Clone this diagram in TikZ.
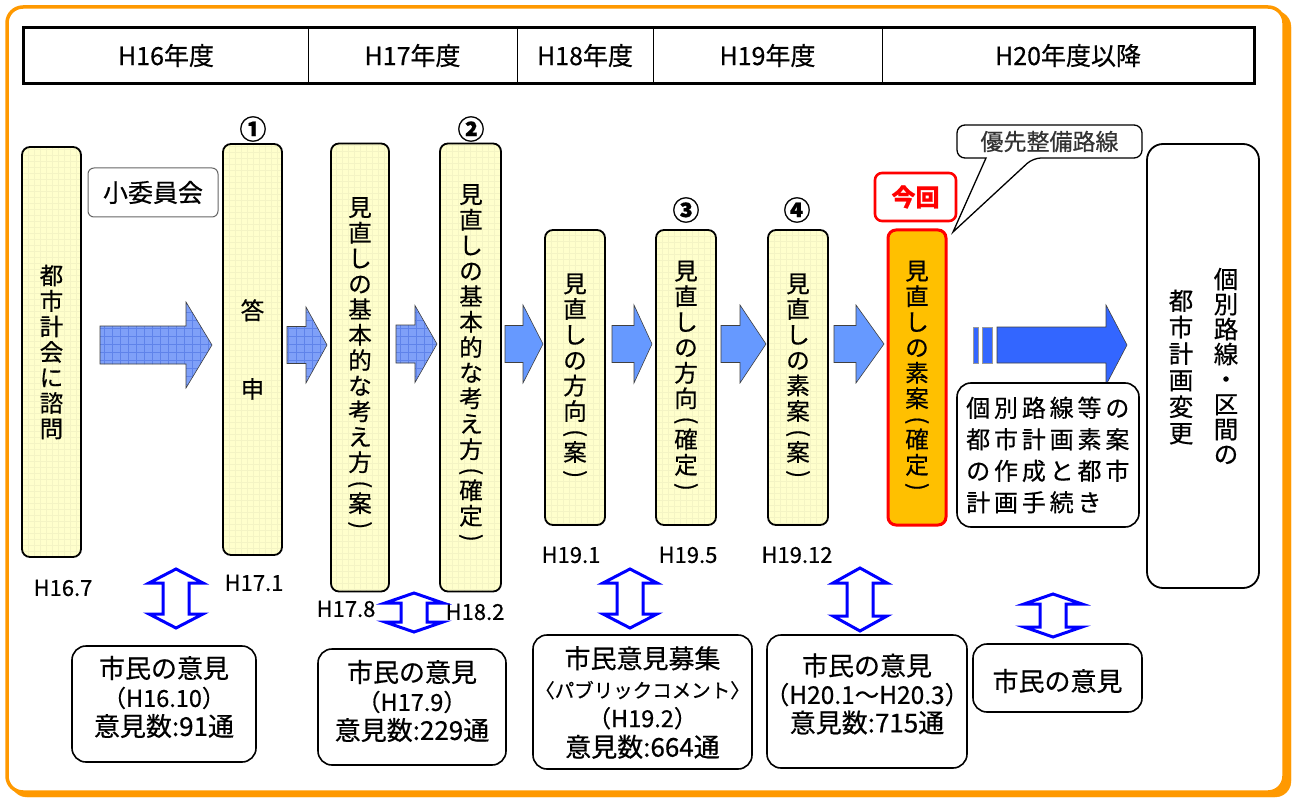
\documentclass[tikz,border=0pt]{standalone}
\usepackage{fontspec}
\usepackage{graphicx}
\setmainfont{Noto Sans CJK JP}[FakeBold=0.5]
\newfontfamily\spacedjp{Noto Sans CJK JP}[LetterSpace=16,FakeBold=0.5]
\newcommand\fsz[2]{\fontsize{#1}{#2}\selectfont}
\newcommand\vpl{\rotatebox[origin=c]{-90}{(}}
\newcommand\vpr{\rotatebox[origin=c]{-90}{)}}
\definecolor{frameorange}{HTML}{FF9900}
\definecolor{paleyellow}{HTML}{FFFFCC}
\definecolor{gridyellow}{HTML}{F4F4C4}
\definecolor{hatchblue}{HTML}{7FA0F8}
\definecolor{hatchline}{HTML}{5F83EA}
\definecolor{lightblue}{HTML}{6699FF}
\definecolor{deepblue}{HTML}{3366FF}
\definecolor{nowfill}{HTML}{FFC000}
\definecolor{dblblue}{HTML}{0000FF}
% right block arrow: style, x0, xs, x1, yc, shaft half, head half
\newcommand\rightblock[7]{\path[#1] (#2,#5-#6) -- (#3,#5-#6) -- (#3,#5-#7) -- (#4,#5) -- (#3,#5+#7) -- (#3,#5+#6) -- (#2,#5+#6) -- cycle;}
% vertical double arrow: cx, top, bottom, head half, shaft half, head height
\newcommand\dblarrow[6]{\draw[dbl] (#1,#2) -- (#1+#4,#2+#6) -- (#1+#5,#2+#6) -- (#1+#5,#3-#6) -- (#1+#4,#3-#6) -- (#1,#3) -- (#1-#4,#3-#6) -- (#1-#5,#3-#6) -- (#1-#5,#2+#6) -- (#1-#4,#2+#6) -- cycle;}
\begin{document}
\begin{tikzpicture}[x=1pt,y=-1pt,
  cell/.style={draw=black, line width=1pt, inner sep=0pt, minimum height=55pt, font=\fsz{25}{25}},
  ybox/.style={draw=black, line width=1.8pt, fill=paleyellow, rounded corners=8pt, inner sep=0pt, align=center, font=\fsz{23.5}{25.5},
    path picture={\draw[gridyellow, line width=0.4pt, step=6pt] (path picture bounding box.south west) grid (path picture bounding box.north east);}},
  nowbox/.style={draw=red, line width=3pt, fill=nowfill, rounded corners=8pt, inner sep=0pt, align=center, font=\fsz{23.5}{25.5}},
  wbox/.style={draw=black, line width=1.8pt, fill=white, rounded corners=16pt, inner sep=0pt},
  obox/.style={draw=black, line width=1.6pt, fill=white, rounded corners=14pt, inner sep=0pt},
  vtext/.style={align=center, inner sep=0pt, font=\fsz{23.5}{25.5}},
  otext/.style={align=center, inner sep=0pt, font=\fsz{26}{29}},
  dlabel/.style={inner sep=0pt, font=\fsz{22}{22}},
  numlabel/.style={inner sep=0pt, font=\fsz{27}{27}\bfseries},
  hatched/.style={fill=hatchblue, draw=black!75, line width=0.6pt,
    path picture={\draw[hatchline, line width=0.45pt, step=8pt] (path picture bounding box.south west) grid (path picture bounding box.north east);}},
  solidarrow/.style={fill=lightblue, draw=black!75, line width=0.6pt},
  bigarrow/.style={fill=deepblue, draw=black!75, line width=0.6pt},
  dbl/.style={draw=dblblue, line width=3pt, fill=white, line join=miter, miter limit=20}
]
\useasboundingbox (0,0) rectangle (1297,799);
% outer frame with shadow
\draw[frameorange, fill=frameorange, rounded corners=16pt] (11,11) rectangle (1291,797);
\draw[frameorange, line width=3.5pt, fill=white, rounded corners=16pt] (7,7) rectangle (1284,792);

% header
\node[cell, minimum width=284pt] (c16) at (166,55.5) {H16年度};
\node[cell, minimum width=209pt] (c17) at (412.5,55.5) {H17年度};
\node[cell, minimum width=136pt] (c18) at (585,55.5) {H18年度};
\node[cell, minimum width=229pt] (c19) at (767.5,55.5) {H19年度};
\node[cell, minimum width=372pt] (c20) at (1068,55.5) {H20年度以降};
\draw[line width=2.6pt] (c16.north west) rectangle (c20.south east);

% vertical boxes
\node[ybox, minimum width=59pt, minimum height=410pt] (b1) at (51.5,352) {都\\市\\計\\会\\に\\諮\\問};
\node[ybox, minimum width=59pt, minimum height=411pt] (b2) at (252.5,349.5) {答\\[53pt]申};
\node[ybox, minimum width=58pt, minimum height=448pt] (b3) at (360,367.5) {};
\node[vtext, anchor=north] (t3) at (360,197) {見\\直\\し\\の\\基\\本\\的\\な\\考\\え\\方\\[-5pt]\vpl\\[-5pt]案\\[-5pt]\vpr};
\node[ybox, minimum width=61pt, minimum height=448pt] (b4) at (470.5,367.5) {};
\node[vtext, anchor=north] (t4) at (471,184) {見\\直\\し\\の\\基\\本\\的\\な\\考\\え\\方\\[-5pt]\vpl\\[-5pt]確\\定\\[-5pt]\vpr};
\node[ybox, minimum width=60pt, minimum height=295pt] (b5) at (575,377.5) {見\\直\\し\\の\\方\\向\\[-5pt]\vpl\\[-5pt]案\\[-5pt]\vpr};
\node[ybox, minimum width=60pt, minimum height=295pt] (b6) at (686,377.5) {見\\直\\し\\の\\方\\向\\[-5pt]\vpl\\[-5pt]確\\定\\[-5pt]\vpr};
\node[ybox, minimum width=60pt, minimum height=295pt] (b7) at (798,377.5) {見\\直\\し\\の\\素\\案\\[-5pt]\vpl\\[-5pt]案\\[-5pt]\vpr};
\node[nowbox, minimum width=58pt, minimum height=295pt] (b8) at (917,377.5) {見\\直\\し\\の\\素\\案\\[-5pt]\vpl\\[-5pt]確\\定\\[-5pt]\vpr};
\node[wbox, minimum width=112pt, minimum height=444pt] (b9) at (1203,366) {};
\node[vtext, font=\fsz{24.5}{25}] (t9a) at (1226,366) {個\\別\\路\\線\\・\\区\\間\\の};
\node[vtext, font=\fsz{24.5}{26.5}] (t9b) at (1181,367) {都\\市\\計\\画\\変\\更};

% circled numbers
\node[numlabel] (n1) at (253,129) {①};
\node[numlabel] (n2) at (471,129) {②};
\node[numlabel] (n3) at (686,210) {③};
\node[numlabel] (n4) at (797,210) {④};

% small committee
\node[draw=black!60, line width=1pt, rounded corners=6pt, fill=white, minimum width=130pt, minimum height=49pt, inner sep=0pt, font=\fsz{25}{25}] (sub) at (153,192.5) {小委員会};

% this time
\node[draw=red, line width=2.6pt, rounded corners=7pt, minimum width=81pt, minimum height=48pt, inner sep=0pt, text=red, font=\fsz{24}{24}\bfseries] (now) at (915.5,197) {今回};

% callout
\coordinate (tip) at (953,232);
\draw[line width=1.3pt, fill=white, rounded corners=8pt] (957,125) -- (1142,125) -- (1142,158) -- (1033,158) [sharp corners] -- (tip) -- (986,158) [rounded corners=8pt] -- (957,158) -- cycle;
\node[inner sep=0pt, text=black!80, font=\fsz{23}{23}] (callout) at (1049.5,141.5) {優先整備路線};

% block arrows
\rightblock{hatched}{100}{186}{212}{345}{19}{43}
\rightblock{hatched}{287}{306}{327}{345}{18.5}{38}
\rightblock{hatched}{396}{415}{437}{344}{19}{38.5}
\rightblock{solidarrow}{505}{523}{543}{344}{18.5}{39}
\rightblock{solidarrow}{612}{634}{652}{344}{18.5}{39}
\rightblock{solidarrow}{721}{740}{766}{344}{18.5}{39}
\rightblock{solidarrow}{834}{856}{884}{344}{18.5}{39}
\path[bigarrow, draw=black!40] (973,327) rectangle (978,363);
\path[bigarrow, draw=black!40] (982,327) rectangle (992,363);
\rightblock{bigarrow}{997}{1106}{1127}{345}{18}{40}

% box for individual routes
\node[obox, minimum width=182pt, minimum height=144pt] (b10) at (1048,455) {};
\node[inner sep=0pt, align=left, anchor=west, font=\spacedjp\fsz{24}{31.5}] (t10) at (966,455) {個別路線等の\\都市計画素案\\の作成と都市\\計画手続き};

% date labels
\node[dlabel] (d1) at (63,588) {H16.7};
\node[dlabel] (d2) at (254,583) {H17.1};
\node[dlabel] (d3) at (346,609) {H17.8};
\node[dlabel] (d4) at (475,612) {H18.2};
\node[dlabel] (d5) at (571,555) {H19.1};
\node[dlabel] (d6) at (688,555) {H19.5};
\node[dlabel] (d7) at (797,555) {H19.12};

% double arrows
\dblarrow{176}{569}{628}{27}{13}{14}
\dblarrow{414}{593}{632}{29}{13}{10}
\dblarrow{630}{569}{628}{27}{13}{14}
\dblarrow{860}{568}{631}{27}{13}{15}
\dblarrow{1053}{594}{637}{29}{13}{10}

% opinion boxes
\node[obox, minimum width=184pt, minimum height=116pt] (o1) at (164,704) {};
\node[otext] (ot1) at (164,697) {市民の意見\\{\fsz{23.5}{29}（H16.10）}\\意見数:91通};
\node[obox, minimum width=188pt, minimum height=116pt] (o2) at (412,707) {};
\node[otext] (ot2) at (412,701) {市民の意見\\{\fsz{23.5}{29}（H17.9）}\\意見数:229通};
\node[obox, minimum width=219pt, minimum height=134pt] (o3) at (642.5,702) {};
\node[otext, font=\fsz{26}{29.5}] (ot3) at (642.5,702.5) {市民意見募集\\{\fsz{19.5}{29.5}〈パブリックコメント〉}\\{\fsz{23.5}{29.5}（H19.2）}\\意見数:664通};
\node[obox, minimum width=200pt, minimum height=133pt] (o4) at (867,701.5) {};
\node[otext, font=\fsz{26}{28.5}] (ot4) at (867,694) {市民の意見\\{\fsz{24.5}{28.5}（H20.1～H20.3）}\\意見数:715通};
\node[obox, minimum width=169pt, minimum height=68pt] (o5) at (1057.5,678) {};
\node[otext] (ot5) at (1057.5,681) {市民の意見};
\end{tikzpicture}
\end{document}
